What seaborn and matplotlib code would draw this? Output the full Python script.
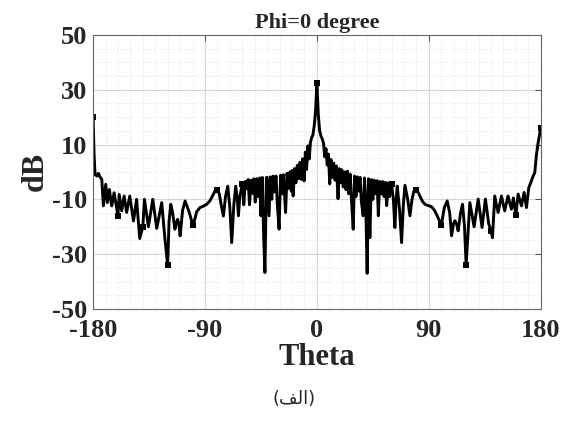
import numpy as np
import pandas as pd
import matplotlib
matplotlib.use("Agg")
import matplotlib.pyplot as plt
from matplotlib.ticker import MultipleLocator
import seaborn as sns

# pattern cut, left half (theta < 0)
theta_left = [-180, -179.2, -178.4, -177, -175.7, -174.5, -173, -171.7, -169.8, -168.5,
              -166.9, -165, -163.1, -160, -159, -157, -155, -153, -150.5, -147.5,
              -145, -142.5, -140, -138.7, -135.5, -132, -128.8, -124.8, -122.2, -120,
              -118.9, -117.5, -116, -114.2, -113, -112, -111, -110, -108, -106,
              -103.4, -101.5, -100, -98, -96.7, -94, -91.3, -88.6, -86, -84,
              -82, -80, -78.5, -77, -75.2, -73.5, -71.7, -70, -68.5, -66.8,
              -65.3, -64, -63.1, -62, -60, -58.8, -57.6, -56.5, -55.3, -54.2,
              -53, -51.9, -50.7, -49.6, -48.4, -47.3, -46.1, -45, -43.9, -42.8,
              -41.8, -40.6, -40, -38.5, -37.4, -36.3, -35.2, -34, -32.9, -31.8,
              -30.4, -29.2, -28, -26.9, -25.2, -24, -22.8, -21.7, -20.6, -20,
              -19.1, -18, -16.9, -15.8, -14.7, -13.6, -12.5, -11.4, -10.3, -9.3,
              -8.3, -7.3, -6.2, -5.2, -4.2, -3.2, -2.1, -1.1]
db_left = [20, 6.4, -0.9, -1.5, -0.5, -1.8, -2.7, -12.4, -4.5, -11.2,
           -6.4, -12.4, -7.6, -16, -8.2, -14.2, -8.8, -14.8, -8.8, -17.9,
           -10, -24.3, -20, -10, -20, -10, -20.6, -11.2, -24.5, -34,
           -18, -11.8, -15, -20.9, -18.5, -17.3, -19, -23.3, -14, -10.6,
           -13.8, -16.5, -19.5, -17, -14.5, -13, -12.5, -11.8, -10.5, -8.8,
           -7, -6.6, -8, -12, -16.1, -9, -5.2, -13, -25.8, -12,
           -5.2, -10, -16, -9, -4.5, -12, -3.5, -6, -2.8, -12,
           -3, -7.8, -2.5, -11, -2.5, -9, -2.2, -16, -2, -24,
           -36.7, -2, -2, -16, -1.8, -10, -1.5, -7.3, -1.5, -12,
           -20.9, -1.2, -8, -1, -14.8, -0.5, -6, 0, -7, 0.5,
           -8.8, 1.2, -4, 2.4, -2.5, 3.5, -2.7, 4.8, -3.3, 7.2,
           0.9, 9.5, 4.7, 10.8, 12.5, 13.5, 17, 22]

# main beam and right half (theta >= 0)
theta_right = [0, 1.1, 2.2, 3.3, 4.3, 5.3, 6.3, 7.3, 8.3, 9.3,
               10.3, 11.3, 12.4, 13.5, 14.6, 15.7, 17, 18, 19.1, 20,
               21.2, 22.3, 23.4, 24.5, 25.6, 26.7, 27.8, 29.2, 30.3, 31.4,
               32.5, 33.6, 34.7, 35.8, 37.2, 38.3, 39.3, 40.4, 41.5, 42.6,
               43.8, 45, 46.1, 47.3, 48.4, 49.4, 50.5, 51.7, 52.8, 54,
               55.1, 56.1, 57.3, 58.4, 60, 61.5, 62.7, 63.6, 64.6, 66.5,
               68.1, 69.5, 70.8, 73, 74.8, 76.5, 78, 80, 81.5, 82.8,
               85, 86.9, 89.5, 92.2, 94.5, 96.2, 98, 100, 102.5, 104.8,
               106.8, 108.3, 109.8, 111, 112.3, 113.6, 115.5, 117.1, 118.7, 120,
               123, 126.4, 129.7, 132.8, 135.5, 138.2, 140, 141.2, 143, 145.7,
               148.4, 151, 153.7, 156.4, 158, 160, 161.8, 164.5, 166.6, 168.5,
               170.4, 172.5, 173.9, 175.2, 176.6, 177.9, 179, 180]
db_right = [32.5, 21, 15, 13, 12, 10.5, 5.5, 8.5, 2.5, 6.5,
            -4.4, 4.5, -2, 3.2, -3, 2.2, -9.8, 1.2, -4, 0.8,
            -5.5, 0, -6.5, 0.3, -8, -0.8, -10, -20.9, -1.5, -9,
            -1.8, -7, -2, -11, -16, -2.2, -12, -37, -2.5, -24,
            -2.8, -10, -3, -8, -3.2, -16, -3.5, -8, -3.5, -9,
            -3.8, -12.3, -4, -9, -4.5, -10, -20.3, -11, -5.2, -14,
            -25.8, -12, -4.9, -10, -16, -10, -7, -6.6, -7.5, -8.8,
            -10.8, -11.8, -12.3, -12.7, -14, -15.5, -17.3, -19.5, -13, -10.6,
            -15, -23.3, -19, -17.8, -19, -21.5, -15, -11.8, -20, -34,
            -11.2, -20, -9.9, -20.3, -9.9, -19, -21.5, -24, -8.8, -14.8,
            -8.8, -14.2, -8.8, -13.6, -9.5, -15.8, -8.1, -12.4, -7.5, -13,
            -5.7, -3.3, -1.5, -0.3, 6.4, 10.6, 13.5, 16]

x_ticks = [-180, -90, 0, 90, 180]
y_ticks = [-50, -30, -10, 10, 30, 50]
marker_theta = [-180, -160, -140, -120, -100, -80, -60, 0, 60, 80, 100, 120, 140, 160, 180]

caption = "(الف)"

df = pd.DataFrame({"Theta": theta_left + theta_right, "dB": db_left + db_right})
mark_idx = list(np.flatnonzero(np.isin(df["Theta"].values, marker_theta)))

sns.set_theme(style="white")
plt.rcParams["font.family"] = ["Liberation Serif", "DejaVu Serif"]
plt.rcParams["axes.unicode_minus"] = False

fig = plt.figure(figsize=(5.71, 4.25), dpi=100)
ax = fig.add_axes([0.163, 0.273, 0.784, 0.645])

sns.lineplot(data=df, x="Theta", y="dB", ax=ax, color="black", lw=2.1,
             estimator=None, sort=False, marker="s", markersize=4,
             markeredgewidth=0, markevery=mark_idx)

ax.set_xlim(-180, 180)
ax.set_ylim(-50, 50)
ax.set_xticks(x_ticks)
ax.set_yticks(y_ticks)
ax.xaxis.set_minor_locator(MultipleLocator(10))
ax.yaxis.set_minor_locator(MultipleLocator(5))
ax.grid(which="major", color="#d6d6d6", lw=0.8)
ax.grid(which="minor", color="#dedede", lw=0.6, ls=":")
ax.set_axisbelow(True)
ax.tick_params(which="major", direction="in", top=True, right=True,
               length=4, width=0.7, color="#444444", labelsize=19)
ax.tick_params(axis="x", pad=7)
ax.tick_params(axis="y", pad=4)
ax.tick_params(which="minor", length=0)
for lab in ax.get_xticklabels() + ax.get_yticklabels():
    lab.set_fontweight("bold")
for sp in ax.spines.values():
    sp.set_color("#666666")
    sp.set_linewidth(0.8)

ax.set_title("Phi=0 degree", fontsize=16, fontweight="bold", pad=5)
ax.set_xlabel("Theta", fontsize=22, fontweight="bold", labelpad=1)
ax.set_ylabel("dB", fontsize=23, fontweight="bold", labelpad=2)

# matplotlib does no Arabic shaping: use the joined letter forms in visual order
forms = {"ا": "\uFE8D", "ل": "\uFEDF", "ف": "\uFED2"}
shaped = "(" + "".join(forms[c] for c in reversed(caption[1:-1])) + ")"
fig.text(0.515, 0.062, shaped, ha="center", va="center", fontsize=13,
         family=["DejaVu Sans"])

fig.savefig("out.png", dpi=100, facecolor="white")
